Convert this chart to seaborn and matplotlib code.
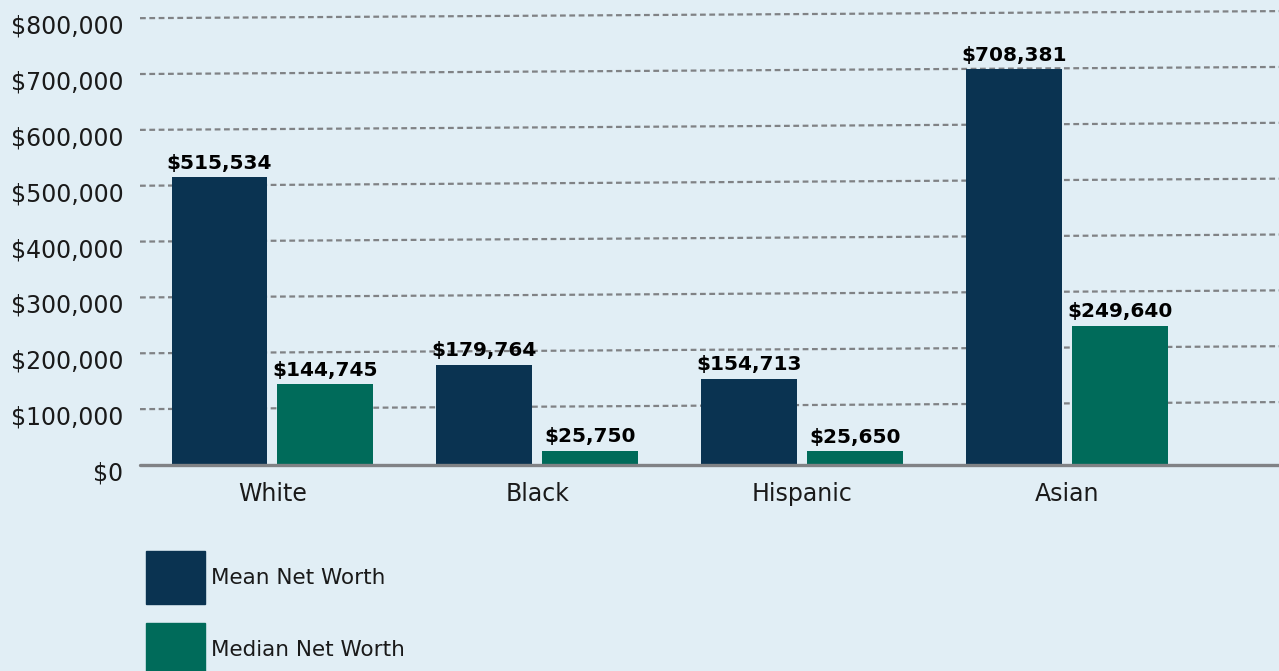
import matplotlib
matplotlib.use("Agg")
import matplotlib.pyplot as plt
from matplotlib.transforms import Affine2D, ScaledTranslation
import seaborn as sns
import pandas as pd

# Net worth by race/ethnicity
groups = ["White", "Black", "Hispanic", "Asian"]
mean_net_worth = [515534, 179764, 154713, 708381]
median_net_worth = [144745, 25750, 25650, 249640]
series_names = ["Mean Net Worth", "Median Net Worth"]
y_ticks = [0, 100000, 200000, 300000, 400000, 500000, 600000, 700000, 800000]

BG = "#E1EEF5"
NAVY = "#0A3351"
GREEN = "#006B5A"
GRID = "#808285"

df = pd.DataFrame({
    "group": groups * 2,
    "series": [series_names[0]] * len(groups) + [series_names[1]] * len(groups),
    "value": mean_net_worth + median_net_worth,
})

sns.set_theme(style="white")
plt.rcParams["font.family"] = ["DejaVu Sans"]

fig = plt.figure(figsize=(12.79, 6.71), dpi=100, facecolor=BG)
ax = fig.add_axes([140 / 1279, 206 / 671, 1 - 140 / 1279, (671 - 7) / 671 - 206 / 671])
ax.set_facecolor(BG)

sns.barplot(
    data=df, x="group", y="value", hue="series", order=groups,
    hue_order=series_names, palette=[NAVY, GREEN], width=0.8, gap=0.095,
    ax=ax, legend=False, zorder=3, linewidth=0, saturation=1,
)

ax.set_xlim(-0.5, 3.8)
ax.set_ylim(0, 820000)
ax.set_yticks(y_ticks)
ax.set_yticklabels([f"${v:,.0f}" for v in y_ticks])
ax.set_xlabel("")
ax.set_ylabel("")
for s in ax.spines.values():
    s.set_visible(False)
ax.tick_params(axis="both", length=0, labelsize=17, colors="#1a1a1a")
ax.tick_params(axis="y", pad=12)
ax.tick_params(axis="x", pad=12)

# shift the y tick labels slightly below their gridlines
shift = ScaledTranslation(0, -6 / 100, fig.dpi_scale_trans)
for lab in ax.get_yticklabels():
    lab.set_transform(lab.get_transform() + shift)

# dashed gridlines, gently rising to the right
fig.canvas.draw()
x0 = ax.transAxes.transform((0, 0))[0]
tilt = Affine2D().translate(-x0, 0).skew(0, 0.0062).translate(x0, 0)
for v in y_ticks[1:]:
    ln = ax.axhline(v, color=GRID, lw=1.6, ls=(0, (2.6, 1.6)), zorder=1)
    ln.set_transform(ln.get_transform() + tilt)
ax.axhline(0, color=GRID, lw=2.4, zorder=4, clip_on=False)

# value labels above each bar
for cont in ax.containers:
    ax.bar_label(cont, labels=[f"${b.get_height():,.0f}" for b in cont],
                 padding=3, fontsize=14.5, fontweight="bold", color="black", zorder=5)

# legend with large square swatches
handles = [plt.Rectangle((0, 0), 1, 1, color=c) for c in (NAVY, GREEN)]
fig.legend(handles, series_names, loc="upper left",
           bbox_to_anchor=(146 / 1279, 1 - 551 / 671), frameon=False,
           fontsize=15.5, handlelength=2.72, handleheight=3.41,
           handletextpad=0.32, labelspacing=0.88, borderpad=0, borderaxespad=0,
           labelcolor="#1a1a1a")

fig.savefig("out.png", dpi=100, facecolor=BG)
